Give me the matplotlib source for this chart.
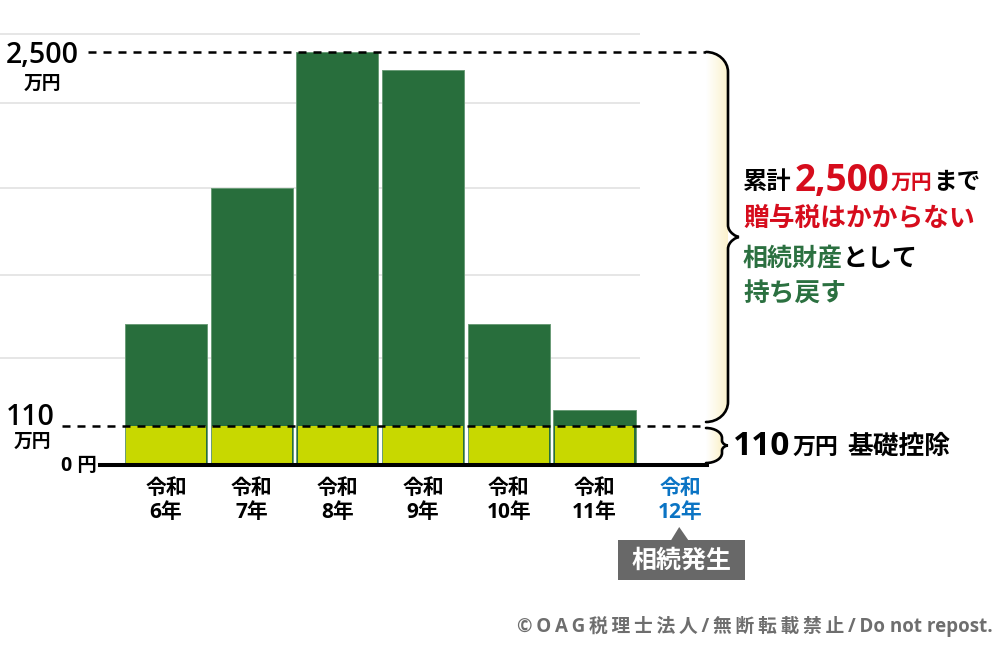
import numpy as np
import matplotlib
matplotlib.use("Agg")
import matplotlib.pyplot as plt
from matplotlib.path import Path
from matplotlib.patches import PathPatch, Polygon
from matplotlib.colors import LinearSegmentedColormap

CJK = ['Noto Sans CJK JP', 'DejaVu Sans']
WIDE = ['Open Sans', 'Noto Sans CJK JP', 'DejaVu Sans']
plt.rcParams['font.family'] = CJK

# ---------------- data ----------------
categories = ['令和\n6年', '令和\n7年', '令和\n8年', '令和\n9年', '令和\n10年', '令和\n11年', '令和\n12年']
gift_totals = [760, 1630, 2500, 2385, 760, 212]      # 万円, gifts per year
basic_deduction = 110                                # 万円
cumulative_limit = 2500                              # 万円
grid_values = [545, 1075, 1631, 2174, 2615]

# ---------------- colours ----------------
DARK = '#286e3c'
YELLOW = '#c8d800'
RED = '#d60c1c'
GREEN_T = '#2b7040'
BLUE = '#0b74c4'
GREY_BOX = '#686868'

W, H = 1000, 649
fig = plt.figure(figsize=(W / 100, H / 100), dpi=100)
fig.patch.set_facecolor('white')

# piecewise linear scale (110 is exaggerated)
def fwd(v):
    v = np.asarray(v, dtype=float)
    return np.where(v <= 110, v * 39 / 110, 39 + (v - 110) * 374 / 2390)

def inv(f):
    f = np.asarray(f, dtype=float)
    return np.where(f <= 39, f * 110 / 39, 110 + (f - 39) * 2390 / 374)

BASE_PX = 465      # pixel row (from top) of zero line
ax = fig.add_axes([0, (H - BASE_PX) / H, 1, BASE_PX / H])
ax.set_yscale('function', functions=(fwd, inv))
ax.set_ylim(0, float(inv(BASE_PX)))
STEP, X0 = 85.7, 166
ax.set_xlim(-X0 / STEP, (W - X0) / STEP)
ax.patch.set_alpha(0)

x = np.arange(len(categories))
nb = len(gift_totals)

# grid lines
ax.hlines(grid_values, 0, 0.64, transform=ax.get_yaxis_transform(),
          color='#e6e6e6', lw=1.4, zorder=0)

# bars
ax.bar(x[:nb], gift_totals, width=0.957, color=DARK, edgecolor='#6a9c77',
       linewidth=0.7, zorder=2)
ax.bar(x[:nb], [basic_deduction] * nb, width=0.93, color=YELLOW,
       edgecolor='none', zorder=3)

# dashed reference lines
ax.hlines([cumulative_limit], 0.088, 0.707, transform=ax.get_yaxis_transform(),
          color='black', lw=1.8, linestyles=(0, (3.2, 2.8)), zorder=4)
ax.hlines([basic_deduction], 0.062, 0.706, transform=ax.get_yaxis_transform(),
          color='black', lw=1.8, linestyles=(0, (3.2, 2.8)), zorder=4)

# axes styling
for s in ['top', 'left', 'right']:
    ax.spines[s].set_visible(False)
ax.spines['bottom'].set_bounds((100 - X0) / STEP, (707 - X0) / STEP)
ax.spines['bottom'].set_linewidth(2.9)
ax.spines['bottom'].set_zorder(5)
ax.set_yticks([])
ax.set_xticks(x, labels=categories)
ax.tick_params(axis='x', length=0, pad=9)
for lbl in ax.get_xticklabels():
    lbl.set_fontsize(15)
    lbl.set_fontweight('bold')
    lbl.set_linespacing(1.2)
    lbl.set_fontfamily(WIDE)
ax.get_xticklabels()[-1].set_color(BLUE)

# y labels
def ylab(s, xpx, v, dy, **kw):
    return ax.annotate(s, (xpx, v), xycoords=('figure pixels', 'data'),
                       xytext=(0, -dy), textcoords='offset pixels',
                       annotation_clip=False, **kw)

ylab('2,500', 42, cumulative_limit, 11, ha='center', va='baseline', fontsize=20.5,
     fontweight='semibold', family=WIDE)
ylab('万円', 42, cumulative_limit, 31, ha='center', va='center', fontsize=13.5, fontweight='bold')
ylab('110', 30, basic_deduction, -1, ha='center', va='baseline', fontsize=20.5,
     fontweight='semibold', family=WIDE)
ylab('万円', 32, basic_deduction, 15, ha='center', va='center', fontsize=13.5, fontweight='bold')
ylab('0 円', 97, 0, 1, ha='right', va='center', fontsize=14, fontweight='bold', family=WIDE)

# ---------------- overlay in pixel coordinates ----------------
ax2 = fig.add_axes([0, 0, 1, 1], zorder=3)
ax2.patch.set_alpha(0)
ax2.axis('off')

def ypx(v):
    return H - ax.transData.transform((0, v))[1]

def brace(x0, xv, xt, yt, yb, r, h):
    k = 0.5523
    ym = (yt + yb) / 2
    verts = [(x0, yt),
             (x0 + k * (xv - x0), yt), (xv, yt + (1 - k) * r), (xv, yt + r),
             (xv, ym - h),
             (xv, ym - h * 0.35), (xt - 2, ym), (xt, ym),
             (xt - 2, ym), (xv, ym + h * 0.35), (xv, ym + h),
             (xv, yb - r),
             (xv, yb - (1 - k) * r), (x0 + k * (xv - x0), yb), (x0, yb)]
    codes = [Path.MOVETO] + [Path.CURVE4] * 3 + [Path.LINETO] + [Path.CURVE4] * 6 + \
            [Path.LINETO] + [Path.CURVE4] * 3
    return Path(verts, codes), verts

cmap = LinearSegmentedColormap.from_list('cream', ['#ffffff', '#fbf2cc'])
grad = np.linspace(0, 1, 64).reshape(1, -1)

def draw_brace(x0, xv, xt, yt, yb, r, h):
    path, verts = brace(x0, xv, xt, yt, yb, r, h)
    fill = Path(verts + [(x0, yt)], [Path.MOVETO] + list(path.codes[1:]) + [Path.CLOSEPOLY])
    clip = PathPatch(fill, facecolor='none', edgecolor='none', transform=ax2.transData)
    ax2.add_patch(clip)
    im = ax2.imshow(grad, extent=[x0, xv, yb, yt], cmap=cmap, aspect='auto', zorder=1)
    im.set_clip_path(clip)
    ax2.add_patch(PathPatch(path, facecolor='none', edgecolor='black', lw=1.9,
                            capstyle='round', zorder=2))

draw_brace(706, 728, 739, ypx(cumulative_limit), ypx(basic_deduction) - 4, 20, 12)
draw_brace(706, 722, 728, ypx(basic_deduction) + 2, ypx(0) - 2, 10, 5)

ax2.set_xlim(0, W)
ax2.set_ylim(H, 0)

# 相続発生 callout
xc = ax.transData.transform((x[-1], 0))[0]
box = [(618, 540), (xc - 9, 540), (xc - 1, 527), (xc + 8, 540), (745, 540), (745, 580), (618, 580)]
ax2.add_patch(Polygon(box, closed=True, facecolor=GREY_BOX, edgecolor='none'))
ax2.text((618 + 745) / 2, 561, '相続発生', color='white', fontsize=18, fontweight='bold',
         ha='center', va='center')

# right-side explanatory text
def chain(prev, s, y, gap=0, **kw):
    return ax2.annotate(s, xy=(1, H - y), xycoords=(prev, 'figure pixels'),
                        xytext=(gap, 0), textcoords='offset pixels',
                        va='baseline', ha='left', fontweight='bold', **kw)

def start(s, xpx, y, **kw):
    return ax2.annotate(s, xy=(xpx, H - y), xycoords='figure pixels',
                        va='baseline', ha='left', fontweight='bold', **kw)

b1 = 189
t = start('累計', 743, b1, fontsize=17.5, color='black')
t = chain(t, '2,500', b1 + 2, gap=3, fontsize=26.5, color=RED, family=WIDE)
t = chain(t, '万円', b1, gap=1, fontsize=15, color=RED)
t = chain(t, 'まで', b1, gap=1, fontsize=17, color='black')
start('贈与税はかからない', 743, 226, fontsize=18.5, color=RED)
t = start('相続財産', 743, 266, fontsize=18, color=GREEN_T)
chain(t, 'として', 266, fontsize=18, color='black')
start('持ち戻す', 743, 302, fontsize=18.5, color=GREEN_T)

b2 = 454
t = start('110', 733, b2 + 1, fontsize=24, color='black', family=WIDE)
t = chain(t, '万円', b2, gap=2, fontsize=16.5, color='black')
chain(t, '基礎控除', b2, gap=9, fontsize=18.5, color='black')

# copyright (Japanese part letter-spaced with thin spaces)
copyright_jp = '©OAG税理士法人/無断転載禁止/'
copyright_en = 'Do not repost.'
spaced = '\u2009'.join(copyright_jp) + '\u2009' + copyright_en
ax2.text(993, 626, spaced, color='#6e6e6e',
         fontsize=13.5, fontweight='bold', ha='right', va='center', family=WIDE)

fig.savefig('out.png', dpi=100, facecolor='white')
